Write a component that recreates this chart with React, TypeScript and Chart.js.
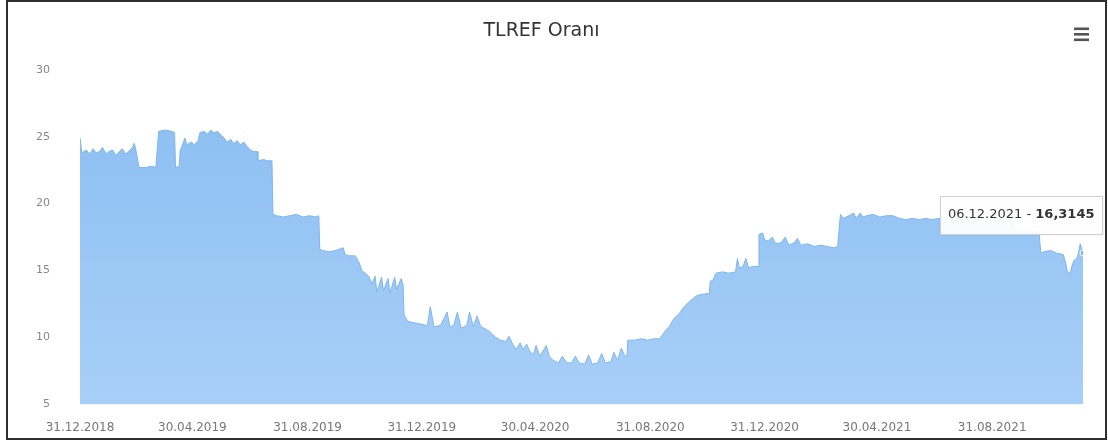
import { useEffect, useRef } from 'react';
import { Chart, registerables } from 'chart.js';

Chart.register(...registerables);

const FONT = '"DejaVu Sans", Verdana, sans-serif';

const chartTitle = 'TLREF Oranı';

// Observation dates (ISO) and the matching TLREF values (%)
const rateDates = [
  '2018-12-31', '2019-01-02', '2019-01-07', '2019-01-10', '2019-01-14', '2019-01-17', '2019-01-21', '2019-01-24',
  '2019-01-28', '2019-01-31', '2019-02-04', '2019-02-07', '2019-02-11', '2019-02-14', '2019-02-18', '2019-02-21',
  '2019-02-25', '2019-02-27', '2019-03-01', '2019-03-04', '2019-03-11', '2019-03-18', '2019-03-22', '2019-03-25',
  '2019-04-01', '2019-04-08', '2019-04-11', '2019-04-12', '2019-04-16', '2019-04-17', '2019-04-19', '2019-04-22',
  '2019-04-24', '2019-04-29', '2019-05-02', '2019-05-06', '2019-05-08', '2019-05-13', '2019-05-16', '2019-05-20',
  '2019-05-23', '2019-05-27', '2019-05-31', '2019-06-03', '2019-06-06', '2019-06-10', '2019-06-13', '2019-06-17',
  '2019-06-20', '2019-06-24', '2019-06-27', '2019-07-01', '2019-07-04', '2019-07-08', '2019-07-09', '2019-07-15',
  '2019-07-19', '2019-07-24', '2019-07-25', '2019-07-29', '2019-08-05', '2019-08-12', '2019-08-19', '2019-08-26',
  '2019-09-02', '2019-09-09', '2019-09-12', '2019-09-13', '2019-09-16', '2019-09-23', '2019-09-30', '2019-10-08',
  '2019-10-10', '2019-10-14', '2019-10-21', '2019-10-25', '2019-10-28', '2019-11-04', '2019-11-08', '2019-11-11',
  '2019-11-13', '2019-11-18', '2019-11-20', '2019-11-25', '2019-11-27', '2019-12-02', '2019-12-04', '2019-12-09',
  '2019-12-11', '2019-12-12', '2019-12-16', '2019-12-23', '2019-12-30', '2020-01-06', '2020-01-09', '2020-01-13',
  '2020-01-20', '2020-01-27', '2020-01-30', '2020-02-03', '2020-02-07', '2020-02-11', '2020-02-17', '2020-02-20',
  '2020-02-24', '2020-02-28', '2020-03-03', '2020-03-09', '2020-03-13', '2020-03-19', '2020-03-24', '2020-03-30',
  '2020-04-02', '2020-04-06', '2020-04-10', '2020-04-14', '2020-04-17', '2020-04-21', '2020-04-24', '2020-04-28',
  '2020-05-01', '2020-05-05', '2020-05-12', '2020-05-15', '2020-05-19', '2020-05-25', '2020-05-29', '2020-06-03',
  '2020-06-08', '2020-06-12', '2020-06-16', '2020-06-22', '2020-06-26', '2020-06-30', '2020-07-06', '2020-07-10',
  '2020-07-14', '2020-07-20', '2020-07-23', '2020-07-27', '2020-07-31', '2020-08-04', '2020-08-06', '2020-08-07',
  '2020-08-14', '2020-08-21', '2020-08-28', '2020-09-04', '2020-09-10', '2020-09-15', '2020-09-21', '2020-09-25',
  '2020-10-01', '2020-10-06', '2020-10-12', '2020-10-19', '2020-10-23', '2020-11-02', '2020-11-03', '2020-11-06',
  '2020-11-09', '2020-11-16', '2020-11-23', '2020-11-30', '2020-12-02', '2020-12-04', '2020-12-08', '2020-12-11',
  '2020-12-14', '2020-12-18', '2020-12-24', '2020-12-25', '2020-12-29', '2020-12-31', '2021-01-04', '2021-01-08',
  '2021-01-12', '2021-01-18', '2021-01-22', '2021-01-26', '2021-02-01', '2021-02-04', '2021-02-08', '2021-02-15',
  '2021-02-22', '2021-03-01', '2021-03-08', '2021-03-15', '2021-03-19', '2021-03-22', '2021-03-25', '2021-03-31',
  '2021-04-05', '2021-04-08', '2021-04-12', '2021-04-15', '2021-04-19', '2021-04-26', '2021-05-03', '2021-05-10',
  '2021-05-17', '2021-05-24', '2021-05-31', '2021-06-07', '2021-06-14', '2021-06-21', '2021-06-28', '2021-07-05',
  '2021-07-19', '2021-08-02', '2021-08-16', '2021-08-30', '2021-09-13', '2021-09-23', '2021-09-24', '2021-10-04',
  '2021-10-20', '2021-10-22', '2021-10-25', '2021-11-01', '2021-11-08', '2021-11-15', '2021-11-18', '2021-11-19',
  '2021-11-22', '2021-11-24', '2021-11-26', '2021-11-30', '2021-12-02', '2021-12-03', '2021-12-06',
];

const rateValues = [
  24.9, 23.8, 24.0, 23.7, 24.1, 23.8, 23.9, 24.2,
  23.7, 23.9, 24.0, 23.6, 23.9, 24.1, 23.7, 23.9,
  24.2, 24.5, 23.9, 22.7, 22.7, 22.8, 22.7, 25.4,
  25.5, 25.4, 25.3, 22.7, 22.8, 24.0, 24.3, 24.9,
  24.4, 24.6, 24.4, 24.7, 25.3, 25.4, 25.2, 25.5,
  25.3, 25.4, 25.1, 24.9, 24.6, 24.8, 24.5, 24.7,
  24.4, 24.6, 24.3, 24.0, 23.9, 23.9, 23.2, 23.3,
  23.2, 23.2, 19.2, 19.1, 19.0, 19.1, 19.2, 19.0,
  19.1, 19.0, 19.1, 16.6, 16.5, 16.4, 16.5, 16.7,
  16.2, 16.1, 16.1, 15.6, 15.0, 14.6, 14.0, 14.6,
  13.4, 14.5, 13.5, 14.4, 13.3, 14.5, 13.6, 14.4,
  13.9, 11.7, 11.2, 11.1, 11.0, 10.9, 12.3, 10.8,
  10.9, 11.9, 10.8, 10.9, 11.9, 10.7, 10.9, 11.9,
  10.8, 11.6, 10.8, 10.6, 10.4, 10.0, 9.8, 9.7,
  10.1, 9.5, 9.1, 9.6, 9.1, 9.5, 9.0, 8.7,
  9.4, 8.6, 9.4, 8.6, 8.3, 8.1, 8.6, 8.1,
  8.1, 8.6, 8.1, 8.0, 8.7, 8.0, 8.1, 8.8,
  8.1, 8.2, 8.9, 8.3, 9.2, 8.6, 8.6, 9.8,
  9.8, 9.9, 9.8, 9.9, 9.9, 10.4, 10.9, 11.4,
  11.8, 12.3, 12.7, 13.1, 13.2, 13.3, 14.2, 14.3,
  14.8, 14.9, 14.8, 14.9, 15.9, 15.2, 15.3, 15.9,
  15.2, 15.3, 15.3, 17.7, 17.8, 17.3, 17.2, 17.5,
  17.0, 17.1, 17.5, 16.9, 17.1, 17.4, 16.9, 17.0,
  16.8, 16.9, 16.8, 16.7, 16.8, 19.2, 18.9, 19.1,
  19.3, 18.9, 19.3, 19.0, 19.1, 19.2, 19.0, 19.1,
  19.1, 18.9, 18.8, 18.9, 18.8, 18.9, 18.8, 18.9,
  18.8, 18.9, 18.8, 18.9, 18.8, 18.8, 17.9, 17.9,
  17.9, 16.3, 16.4, 16.5, 16.3, 16.2, 15.4, 15.0,
  14.7, 15.3, 15.7, 16.0, 16.6, 17.0, 16.3145,
];

// Dates that carry an x-axis label
const tickDates = [
  '2018-12-31', '2019-04-30', '2019-08-31', '2019-12-31', '2020-04-30',
  '2020-08-31', '2020-12-31', '2021-04-30', '2021-08-31',
];

const yTickValues = [5, 10, 15, 20, 25, 30];

const toTime = (iso: string) => {
  const [y, m, d] = iso.split('-').map(Number);
  return Date.UTC(y, m - 1, d);
};

const pad2 = (n: number) => String(n).padStart(2, '0');

const formatDate = (t: number) => {
  const d = new Date(t);
  return `${pad2(d.getUTCDate())}.${pad2(d.getUTCMonth() + 1)}.${d.getUTCFullYear()}`;
};

const formatRate = (v: number) => v.toFixed(4).replace('.', ',');

const lastIndex = rateValues.length - 1;

// Menu icon and the hover label of the latest value
const overlayPlugin = {
  id: 'overlay',
  afterDraw(chart: any) {
    const ctx: CanvasRenderingContext2D = chart.ctx;
    ctx.save();

    // context menu (hamburger) icon
    ctx.fillStyle = '#555';
    [27.5, 33, 38.5].forEach((y) => ctx.fillRect(1074, y, 15, 2.6));

    // label of the latest point
    const pt = chart.getDatasetMeta(0).data[lastIndex];
    if (pt) {
      const leftText = `${formatDate(toTime(rateDates[lastIndex]))} - `;
      const rightText = formatRate(rateValues[lastIndex]);
      ctx.font = `13px ${FONT}`;
      const w1 = ctx.measureText(leftText).width;
      ctx.font = `bold 13px ${FONT}`;
      const w2 = ctx.measureText(rightText).width;
      const padX = 7.5;
      const boxW = w1 + w2 + padX * 2;
      const boxH = 38;
      const boxRight = pt.x + 19;
      const boxLeft = boxRight - boxW;
      const cy = pt.y - 38;
      const boxTop = cy - boxH / 2;

      ctx.shadowColor = 'rgba(0,0,0,0.12)';
      ctx.shadowBlur = 3;
      ctx.shadowOffsetX = 1;
      ctx.shadowOffsetY = 1;
      ctx.fillStyle = 'rgba(255,255,255,0.95)';
      ctx.fillRect(boxLeft, boxTop, boxW, boxH);
      ctx.shadowColor = 'transparent';
      ctx.strokeStyle = '#d0d0d0';
      ctx.lineWidth = 1;
      ctx.strokeRect(Math.round(boxLeft) + 0.5, Math.round(boxTop) + 0.5, Math.round(boxW), Math.round(boxH));

      ctx.fillStyle = '#333';
      ctx.textBaseline = 'middle';
      ctx.textAlign = 'left';
      ctx.font = `13px ${FONT}`;
      ctx.fillText(leftText, boxLeft + padX, cy);
      ctx.font = `bold 13px ${FONT}`;
      ctx.fillText(rightText, boxLeft + padX + w1, cy);
    }
    ctx.restore();
  },
};

export default function App() {
  const canvasRef = useRef<HTMLCanvasElement>(null);

  useEffect(() => {
    const canvas = canvasRef.current;
    if (!canvas) return;

    const points = rateDates.map((d, i) => ({ x: toTime(d), y: rateValues[i] }));

    const chart = new Chart(canvas, {
      type: 'line',
      data: {
        datasets: [
          {
            label: chartTitle,
            data: points,
            fill: 'start',
            backgroundColor: (c: any) => {
              const area = c.chart.chartArea;
              if (!area) return '#96c6f4';
              const g = c.chart.ctx.createLinearGradient(0, area.top, 0, area.bottom);
              g.addColorStop(0, '#88bdf1');
              g.addColorStop(1, '#a8cff7');
              return g;
            },
            borderColor: '#7fb6ec',
            borderWidth: 1,
            tension: 0,
            pointRadius: (c: any) => (c.dataIndex === lastIndex ? 3 : 0),
            pointBackgroundColor: '#7cb5ec',
            pointBorderColor: '#ffffff',
            pointBorderWidth: 1,
          },
        ],
      },
      options: {
        animation: false,
        responsive: true,
        maintainAspectRatio: false,
        events: [],
        layout: { padding: { left: 0, right: 25, top: 0, bottom: 0 } },
        plugins: {
          legend: { display: false },
          tooltip: { enabled: false },
          title: {
            display: true,
            text: chartTitle,
            color: '#333',
            font: { family: FONT, size: 19, weight: 'normal' },
            padding: { top: 20, bottom: 27 },
          },
        },
        scales: {
          x: {
            type: 'linear',
            min: toTime(rateDates[0]),
            max: toTime(rateDates[lastIndex]),
            grid: { display: false, drawTicks: false },
            border: { display: false },
            afterBuildTicks: (s: any) => {
              s.ticks = tickDates.map((d) => ({ value: toTime(d) }));
            },
            afterFit: (s: any) => {
              s.height = 28;
            },
            ticks: {
              autoSkip: false,
              maxRotation: 0,
              padding: 16,
              color: '#777',
              font: { family: FONT, size: 12 },
              callback: (v: any) => formatDate(Number(v)),
            },
          },
          y: {
            min: 5,
            max: 30,
            grid: { display: false, drawTicks: false },
            border: { display: false },
            afterBuildTicks: (s: any) => {
              s.ticks = yTickValues.map((v) => ({ value: v }));
            },
            afterFit: (s: any) => {
              s.width = 80;
            },
            ticks: {
              padding: 30,
              color: '#888',
              font: { family: FONT, size: 11 },
            },
          },
        },
      },
      plugins: [overlayPlugin],
    });

    return () => chart.destroy();
  }, []);

  return (
    <div
      style={{
        position: 'fixed',
        left: 0,
        top: 0,
        width: 1108,
        height: 441,
        background: '#fff',
        overflow: 'hidden',
      }}
    >
      <div style={{ position: 'absolute', left: 0, top: 0, width: 1108, height: 441 }}>
        <canvas ref={canvasRef} />
      </div>
      <div
        style={{
          position: 'absolute',
          left: 6,
          top: 0,
          width: 1101,
          height: 440,
          border: '2px solid #2e2e2e',
          boxSizing: 'border-box',
          pointerEvents: 'none',
        }}
      />
    </div>
  );
}
